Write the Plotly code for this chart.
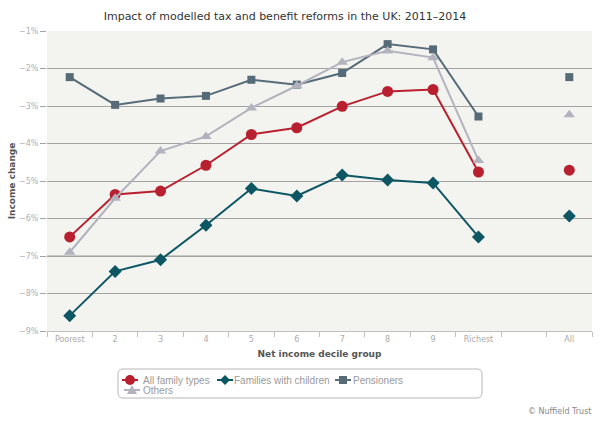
import plotly.graph_objects as go

categories = ["Poorest", "2", "3", "4", "5", "6", "7", "8", "9", "Richest", " ", "All"]
all_family = [-6.49, -5.36, -5.27, -4.58, -3.76, -3.58, -3.01, -2.61, -2.56, -4.76, None, -4.71]
families_children = [-8.59, -7.41, -7.10, -6.18, -5.20, -5.40, -4.84, -4.97, -5.05, -6.49, None, -5.93]
pensioners = [-2.23, -2.97, -2.80, -2.73, -2.30, -2.43, -2.12, -1.35, -1.49, -3.28, None, -2.23]
others = [-6.90, -5.46, -4.20, -3.81, -3.05, -2.46, -1.83, -1.53, -1.71, -4.45, None, -3.23]
y_ticks = [-1, -2, -3, -4, -5, -6, -7, -8, -9]
y_tick_labels = ["\u22121%", "\u22122%", "\u22123%", "\u22124%", "\u22125%", "\u22126%", "\u22127%", "\u22128%", "\u22129%"]

series_names = ["All family types", "Families with children", "Pensioners", "Others"]
series_values = [all_family, families_children, pensioners, others]
colors = ["#b8202f", "#0d5664", "#566b77", "#b3b3bf"]
symbols = ["circle", "diamond", "square", "triangle-up"]
sizes = [11, 10, 8, 10]

fig = go.Figure()
for name, vals, color, symbol, size in zip(series_names, series_values, colors, symbols, sizes):
    fig.add_trace(go.Scatter(
        x=categories, y=vals, name=name, mode="lines+markers",
        line=dict(color=color, width=2), connectgaps=False,
        marker=dict(color=color, symbol=symbol, size=size),
        showlegend=False,
    ))

# plot area in pixels
pl, pr, pt, pb = 47, 592, 31, 331
def fx(x):
    return (x - pl) / (pr - pl)
def fy(y):
    return (pb - y) / (pb - pt)

shapes = [dict(type="line", xref="paper", yref="y", x0=0, x1=1, y0=-7, y1=-7,
               line=dict(color="#c9c9c6", width=2), layer="below")]
annotations = []

# rounded legend box
x0, x1, y0, y1, r = 118, 482, 369, 398, 5
path = (f"M {fx(x0+r)},{fy(y0)} L {fx(x1-r)},{fy(y0)} Q {fx(x1)},{fy(y0)} {fx(x1)},{fy(y0+r)} "
        f"L {fx(x1)},{fy(y1-r)} Q {fx(x1)},{fy(y1)} {fx(x1-r)},{fy(y1)} "
        f"L {fx(x0+r)},{fy(y1)} Q {fx(x0)},{fy(y1)} {fx(x0)},{fy(y1-r)} "
        f"L {fx(x0)},{fy(y0+r)} Q {fx(x0)},{fy(y0)} {fx(x0+r)},{fy(y0)} Z")
shapes.append(dict(type="path", path=path, xref="paper", yref="paper",
                   line=dict(color="#b8b8b8", width=1), fillcolor="white", layer="below"))

# legend entries (symbol centre x, y, text left x)
legend_pos = [(130, 380, 141), (225, 380, 232), (343, 380, 351), (132, 390, 141)]
for (cx, cy, tx), name, color, symbol in zip(legend_pos, series_names, colors, symbols):
    shapes.append(dict(type="line", xref="paper", yref="paper",
                       x0=fx(cx - 8), x1=fx(cx + 8), y0=fy(cy), y1=fy(cy),
                       line=dict(color=color, width=2)))
    if symbol == "circle":
        shapes.append(dict(type="circle", xref="paper", yref="paper",
                           x0=fx(cx - 5), x1=fx(cx + 5), y0=fy(cy + 5), y1=fy(cy - 5),
                           fillcolor=color, line=dict(color=color, width=0)))
    elif symbol == "diamond":
        p = (f"M {fx(cx)},{fy(cy-5)} L {fx(cx+5)},{fy(cy)} L {fx(cx)},{fy(cy+5)} "
             f"L {fx(cx-5)},{fy(cy)} Z")
        shapes.append(dict(type="path", path=p, xref="paper", yref="paper",
                           fillcolor=color, line=dict(color=color, width=0)))
    elif symbol == "square":
        shapes.append(dict(type="rect", xref="paper", yref="paper",
                           x0=fx(cx - 4), x1=fx(cx + 4), y0=fy(cy + 4), y1=fy(cy - 4),
                           fillcolor=color, line=dict(color=color, width=0)))
    else:
        p = (f"M {fx(cx)},{fy(cy-5)} L {fx(cx+5)},{fy(cy+4)} L {fx(cx-5)},{fy(cy+4)} Z")
        shapes.append(dict(type="path", path=p, xref="paper", yref="paper",
                           fillcolor=color, line=dict(color=color, width=0)))
    annotations.append(dict(text=name, xref="paper", yref="paper", x=fx(tx), y=fy(cy),
                            xanchor="left", yanchor="middle", showarrow=False,
                            font=dict(family="Liberation Sans", size=10, color="#9a9a9a")))

annotations.append(dict(text="\u00a9 Nuffield Trust", xref="paper", yref="paper",
                        x=fx(593), y=fy(411), xanchor="right", yanchor="middle",
                        showarrow=False, font=dict(family="DejaVu Sans", size=8, color="#888888")))

fig.update_layout(
    width=600, height=421,
    margin=dict(l=pl, r=600 - pr, t=pt, b=421 - pb),
    paper_bgcolor="white",
    plot_bgcolor="#f3f3ef",
    font=dict(family="Liberation Sans", size=9, color="#999999"),
    title=dict(text="Impact of modelled tax and benefit reforms in the UK: 2011\u20132014",
               x=0.475, xanchor="center", y=0.962, yanchor="middle",
               font=dict(family="DejaVu Sans", size=11, color="#333333")),
    xaxis=dict(
        type="category", categoryorder="array", categoryarray=categories,
        range=[-0.5, 11.5], tickson="boundaries", ticks="outside", ticklen=5,
        tickcolor="#c0c0c0", showline=True, linecolor="#c0c0c0", linewidth=1,
        showgrid=False, tickfont=dict(family="DejaVu Sans", size=8, color="#aaaaaa"),
        title=dict(text="<b>Net income decile group</b>", standoff=8,
                   font=dict(family="DejaVu Sans", size=9, color="#555555")),
    ),
    yaxis=dict(
        range=[-9, -1], tickvals=y_ticks, ticktext=y_tick_labels,
        showgrid=True, gridcolor="#a3a3a3", gridwidth=1, zeroline=False,
        ticks="outside", ticklen=6, tickcolor="#a3a3a3",
        tickfont=dict(family="DejaVu Sans", size=8, color="#b0b0b0"),
        title=dict(text="<b>Income change</b>", standoff=1,
                   font=dict(family="DejaVu Sans", size=9, color="#555555")),
    ),
    showlegend=False,
    shapes=shapes,
    annotations=annotations,
)

fig.write_html("out.html", config={"displayModeBar": False},
               post_script="document.body.style.margin='0';")
